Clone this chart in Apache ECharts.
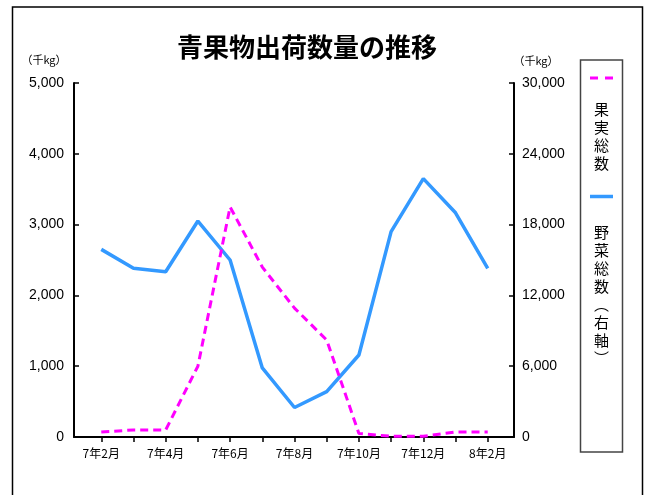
<!DOCTYPE html>
<html>
<head>
<meta charset="utf-8">
<script src="https://cdn.jsdelivr.net/npm/echarts@6/dist/echarts.min.js"></script>
<style>html,body{margin:0;padding:0;background:#fff;}#c{width:649px;height:495px;}</style>
</head>
<body>
<div id="c"></div>
<script>
const months = ['7年2月','7年3月','7年4月','7年5月','7年6月','7年7月','7年8月','7年9月','7年10月','7年11月','7年12月','8年1月','8年2月'];
const fruitTotal = [70, 100, 100, 1000, 3250, 2400, 1820, 1370, 50, 10, 10, 70, 70];
const vegTotal = [15900, 14300, 14000, 18300, 15000, 5850, 2500, 3850, 6950, 17400, 21900, 19000, 14300];
const leftTicks = [0, 1000, 2000, 3000, 4000, 5000];
const rightTicks = [0, 6000, 12000, 18000, 24000, 30000];

const chart = echarts.init(document.getElementById('c'), null, {renderer: 'canvas'});
const numFont = "'Liberation Sans', Arial, sans-serif";
const cjkFont = "'Noto Sans CJK JP', sans-serif";
const fmt = v => v.toLocaleString('en-US');
const idx = months.map((m, i) => i);

chart.setOption({
  backgroundColor: '#fff',
  animation: false,
  title: {
    text: '青果物出荷数量の推移',
    left: 302, top: 29, textAlign: 'center',
    textStyle: {fontFamily: cjkFont, fontSize: 26, fontWeight: 'bold', color: '#000'}
  },
  grid: {left: 74, right: 135, top: 83, bottom: 58},
  xAxis: {
    type: 'value', min: -0.847, max: 12.816,
    splitLine: {show: false},
    axisLine: {show: true, onZero: false, lineStyle: {color: '#000', width: 2}},
    axisTick: {show: true, inside: false, length: 5, lineStyle: {color: '#000', width: 1.5}, customValues: idx},
    axisLabel: {
      customValues: idx.filter(i => i % 2 === 0),
      formatter: v => months[Math.round(v)],
      fontFamily: cjkFont, fontSize: 12, color: '#000', margin: 10
    }
  },
  yAxis: [
    {
      type: 'value', min: 0, max: 5000, interval: 1000, position: 'left',
      splitLine: {show: false},
      axisLine: {show: true, onZero: false, lineStyle: {color: '#000', width: 2}},
      axisTick: {show: true, inside: true, length: 5, lineStyle: {color: '#000', width: 1.5}, customValues: leftTicks},
      axisLabel: {formatter: fmt, fontFamily: numFont, fontSize: 14, color: '#000', margin: 10, customValues: leftTicks}
    },
    {
      type: 'value', min: 0, max: 30000, interval: 6000, position: 'right',
      splitLine: {show: false},
      axisLine: {show: true, onZero: false, lineStyle: {color: '#000', width: 2}},
      axisTick: {show: true, inside: true, length: 5, lineStyle: {color: '#000', width: 1.5}, customValues: rightTicks},
      axisLabel: {formatter: fmt, fontFamily: numFont, fontSize: 14, color: '#000', margin: 8, customValues: rightTicks}
    }
  ],
  series: [
    {
      name: '果実総数', type: 'line', yAxisIndex: 0, showSymbol: false, z: 3,
      data: fruitTotal.map((v, i) => [i, v]),
      lineStyle: {color: '#FF00FF', width: 3, type: [8, 5]}
    },
    {
      name: '野菜総数（右軸）', type: 'line', yAxisIndex: 1, showSymbol: false, z: 2,
      data: vegTotal.map((v, i) => [i, v]),
      lineStyle: {color: '#3399FF', width: 3.5}
    }
  ],
  graphic: [
    {type: 'rect', shape: {x: 12.5, y: 7, width: 630, height: 500}, style: {fill: 'none', stroke: '#000', lineWidth: 1.5}, silent: true},
    {type: 'text', x: 44, y: 60, style: {text: '（千kg）', fontFamily: cjkFont, fontSize: 11, fill: '#000', align: 'center', verticalAlign: 'middle'}},
    {type: 'text', x: 536, y: 61, style: {text: '（千kg）', fontFamily: cjkFont, fontSize: 11, fill: '#000', align: 'center', verticalAlign: 'middle'}},
    {type: 'rect', shape: {x: 580.5, y: 60, width: 42, height: 392}, style: {fill: '#fff', stroke: '#444', lineWidth: 1.5}},
    {type: 'line', shape: {x1: 590, y1: 78, x2: 613, y2: 78}, style: {stroke: '#FF00FF', lineWidth: 3, lineDash: [8, 7]}},
    {type: 'text', x: 601.5, y: 100, style: {text: '果\n実\n総\n数', fontFamily: cjkFont, fontSize: 15, lineHeight: 18, fill: '#000', align: 'center', verticalAlign: 'top'}},
    {type: 'line', shape: {x1: 590, y1: 196.5, x2: 613, y2: 196.5}, style: {stroke: '#3399FF', lineWidth: 3.5}},
    {type: 'text', x: 601.5, y: 223, style: {text: '野\n菜\n総\n数\n︵\n右\n軸\n︶', fontFamily: cjkFont, fontSize: 15, lineHeight: 18, fill: '#000', align: 'center', verticalAlign: 'top'}}
  ]
});
</script>
</body>
</html>
